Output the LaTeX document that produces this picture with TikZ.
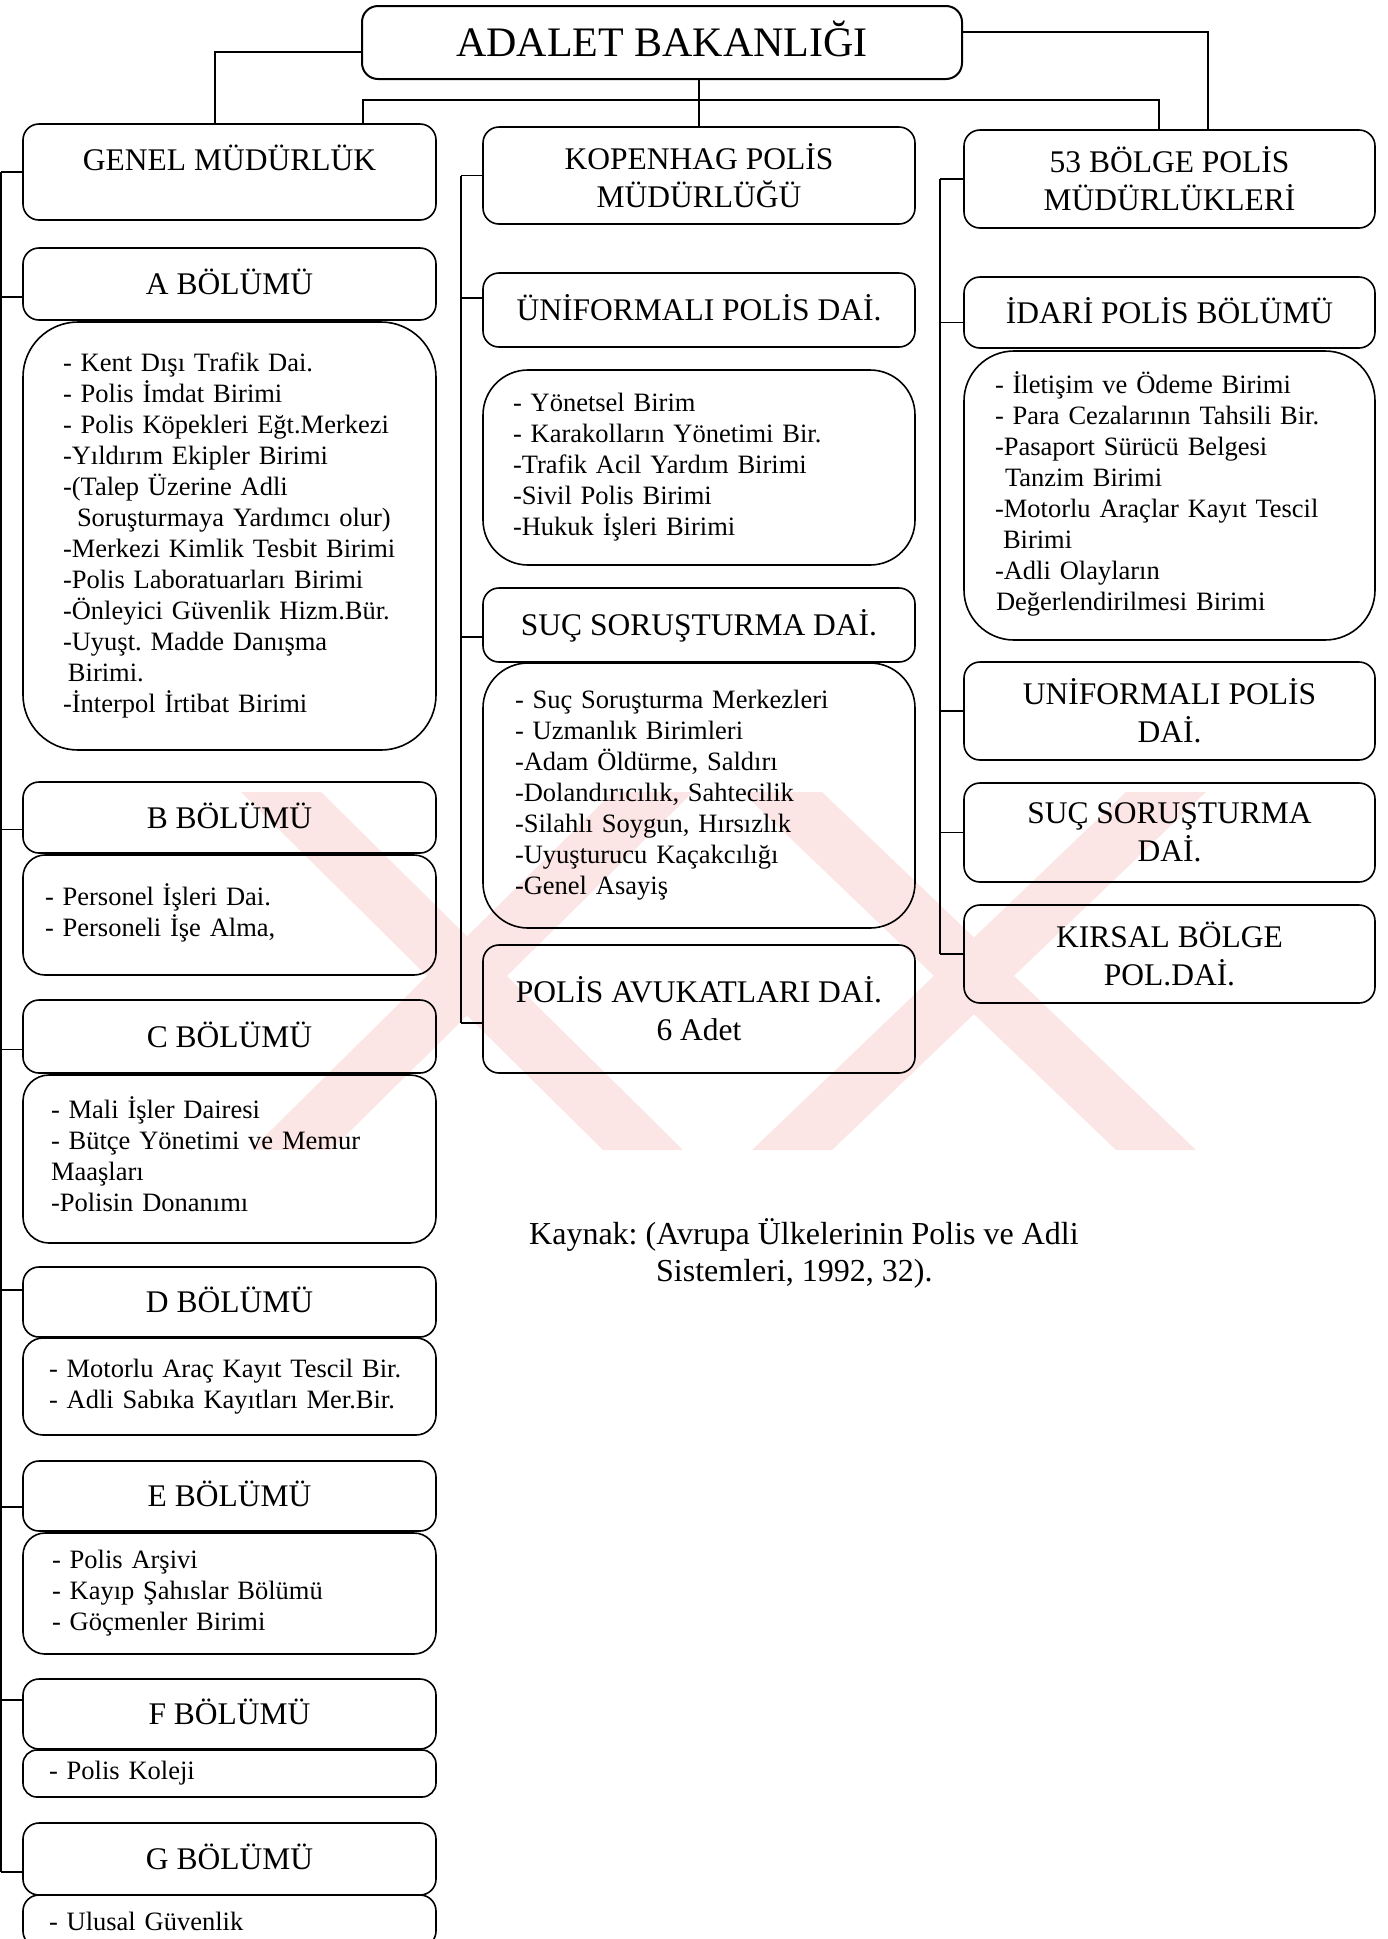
\documentclass[tikz,border=0pt]{standalone}
\usepackage{fontspec}
\setmainfont{Liberation Serif}
\frenchspacing
\definecolor{filigran}{RGB}{252,229,229}
\tikzset{
  baslik/.style={draw, line width=1.6pt, rounded corners=16pt, inner sep=0pt, align=center, font=\fontsize{31.5}{38}\selectfont},
  liste/.style={draw, line width=1.6pt, inner ysep=0pt, align=left, font=\fontsize{26.5}{31}\selectfont},
  tek/.style={text height=21pt, text depth=0pt},
  cizgi/.style={line width=1.3pt},
  solk/.style={minimum width=413pt},
  ortak/.style={minimum width=432pt},
  sagk/.style={minimum width=411pt},
}
\begin{document}
\begin{tikzpicture}[x=1pt,y=-1pt]
\useasboundingbox (0,0) rectangle (1388,1939);
\clip (0,0) rectangle (1388,1939);

% filigran
\fill[filigran] (241,792) -- (321,792) -- (683,1150) -- (603,1150) -- cycle;
\fill[filigran] (613,792) -- (693,792) -- (331,1150) -- (251,1150) -- cycle;
\fill[filigran] (742,792) -- (822,792) -- (1196,1150) -- (1116,1150) -- cycle;
\fill[filigran] (1126,792) -- (1206,792) -- (832,1150) -- (752,1150) -- cycle;

% bakanlik
\node[baslik, minimum width=600pt, minimum height=73pt, line width=2pt, font=\fontsize{42}{50}\selectfont, text height=28pt, text depth=0pt] (bakan) at (662,42.5) {ADALET BAKANLIĞI};

% genel mudurluk
\node[baslik, solk, text height=46pt, text depth=50pt] (genel) at (229.5,172) {GENEL MÜDÜRLÜK};
\node[baslik, solk, tek, minimum height=72pt] (abol) at (229.5,284) {A BÖLÜMÜ};
\node[liste, rounded corners=55pt, minimum height=428pt, inner xsep=40pt, text width=333pt] (alist) at (229.5,536) {\begin{tabular}{@{}l@{}}
- Kent Dışı Trafik Dai.\\
- Polis İmdat Birimi\\
- Polis Köpekleri Eğt.Merkezi\\
-Yıldırım Ekipler Birimi\\
-(Talep Üzerine Adli\\
\hspace*{14pt}Soruşturmaya Yardımcı olur)\\
-Merkezi Kimlik Tesbit Birimi\\
-Polis Laboratuarları Birimi\\
-Önleyici Güvenlik Hizm.Bür.\\
-Uyuşt. Madde Danışma\\
\hspace*{5pt}Birimi.\\
-İnterpol İrtibat Birimi
\end{tabular}};
\node[baslik, solk, tek, minimum height=71pt] (bbol) at (229.5,817.5) {B BÖLÜMÜ};
\node[liste, rounded corners=22pt, minimum height=120pt, inner xsep=22pt, text width=369pt] (blist) at (229.5,915) {\begin{tabular}{@{}l@{}}
- Personel İşleri Dai.\\
- Personeli İşe Alma,
\end{tabular}};
\node[baslik, solk, tek, minimum height=73pt] (cbol) at (229.5,1036.5) {C BÖLÜMÜ};
\node[liste, rounded corners=26pt, minimum height=168pt, inner xsep=28pt, text width=357pt] (clist) at (229.5,1159) {\begin{tabular}{@{}l@{}}
- Mali İşler Dairesi\\
- Bütçe Yönetimi ve Memur\\
Maaşları\\
-Polisin Donanımı
\end{tabular}};
\node[baslik, solk, tek, minimum height=70pt] (dbol) at (229.5,1302) {D BÖLÜMÜ};
\node[liste, rounded corners=20pt, minimum height=97pt, inner xsep=26pt, text width=361pt] (dlist) at (229.5,1386.5) {\begin{tabular}{@{}l@{}}
- Motorlu Araç Kayıt Tescil Bir.\\
- Adli Sabıka Kayıtları Mer.Bir.
\end{tabular}};
\node[baslik, solk, tek, minimum height=70pt] (ebol) at (229.5,1496) {E BÖLÜMÜ};
\node[liste, rounded corners=22pt, minimum height=121pt, inner xsep=29pt, text width=355pt] (elist) at (229.5,1593.5) {\begin{tabular}{@{}l@{}}
- Polis Arşivi\\
- Kayıp Şahıslar Bölümü\\
- Göçmenler Birimi
\end{tabular}};
\node[baslik, solk, tek, minimum height=70pt] (fbol) at (229.5,1714) {F BÖLÜMÜ};
\node[liste, rounded corners=14pt, minimum height=47pt, inner xsep=26pt, text width=361pt] (flist) at (229.5,1773.5) {- Polis Koleji};
\node[baslik, solk, tek, minimum height=72pt] (gbol) at (229.5,1859) {G BÖLÜMÜ};
\node[liste, rounded corners=16pt, minimum height=52pt, inner xsep=26pt, text width=361pt] (glist) at (229.5,1921) {- Ulusal Güvenlik};

% kopenhag
\node[baslik, ortak, minimum height=97pt] (kopen) at (699,175.5) {KOPENHAG POLİS\\MÜDÜRLÜĞÜ};
\node[baslik, ortak, tek, minimum height=74pt] (unibol) at (699,310) {ÜNİFORMALI POLİS DAİ.};
\node[liste, rounded corners=45pt, minimum height=195pt, inner xsep=30pt, text width=372pt] (unilist) at (699,467.5) {\begin{tabular}{@{}l@{}}
- Yönetsel Birim\\
- Karakolların Yönetimi Bir.\\
-Trafik Acil Yardım Birimi\\
-Sivil Polis Birimi\\
-Hukuk İşleri Birimi
\end{tabular}};
\node[baslik, ortak, tek, minimum height=74pt] (sucbol) at (699,625) {SUÇ SORUŞTURMA DAİ.};
\node[liste, rounded corners=45pt, minimum height=265pt, inner xsep=32pt, text width=368pt] (suclist) at (699,795.5) {\begin{tabular}{@{}l@{}}
- Suç Soruşturma Merkezleri\\
- Uzmanlık Birimleri\\
-Adam Öldürme, Saldırı\\
-Dolandırıcılık, Sahtecilik\\
-Silahlı Soygun, Hırsızlık\\
-Uyuşturucu Kaçakcılığı\\
-Genel Asayiş
\end{tabular}};
\node[baslik, ortak, minimum height=128pt] (avuk) at (699,1009) {POLİS AVUKATLARI DAİ.\\6 Adet};

% bolge mudurlukleri
\node[baslik, sagk, minimum height=98pt] (bolge) at (1169.5,179) {53 BÖLGE POLİS\\MÜDÜRLÜKLERİ};
\node[baslik, sagk, tek, minimum height=71pt] (idari) at (1169.5,312.5) {İDARİ POLİS BÖLÜMÜ};
\node[liste, rounded corners=50pt, minimum height=289pt, inner xsep=31pt, text width=349pt] (idarilist) at (1169.5,495.5) {\begin{tabular}{@{}l@{}}
- İletişim ve Ödeme Birimi\\
- Para Cezalarının Tahsili Bir.\\
-Pasaport Sürücü Belgesi\\
\hspace*{10pt}Tanzim Birimi\\
-Motorlu Araçlar Kayıt Tescil\\
\hspace*{8pt}Birimi\\
-Adli Olayların\\
\hspace*{1pt}Değerlendirilmesi Birimi
\end{tabular}};
\node[baslik, sagk, minimum height=98pt] (uni2) at (1169.5,711) {UNİFORMALI POLİS\\DAİ.};
\node[baslik, sagk, minimum height=99pt] (suc2) at (1169.5,832.5) {SUÇ SORUŞTURMA\\DAİ.};
\node[baslik, sagk, minimum height=98pt] (kirsal) at (1169.5,954) {KIRSAL BÖLGE\\POL.DAİ.};

% kaynak
\node[anchor=west, inner sep=0pt, align=left, font=\fontsize{32}{37}\selectfont] (kaynak) at (529,1253.5) {Kaynak: (Avrupa Ülkelerinin Polis ve Adli\\\hspace*{127pt}Sistemleri, 1992, 32).};

% baglantilar
\coordinate (solkol) at (215,52);
\coordinate (sagkol) at (1208,32);
\coordinate (hatsol) at (363,100);
\coordinate (hatsag) at (1159,100);
\draw[cizgi] (bakan.west |- solkol) -| (genel.north -| solkol);
\draw[cizgi] (bakan.east |- sagkol) -| (bolge.north -| sagkol);
\draw[cizgi] (bakan.south -| kopen.north) -- (kopen.north);
\draw[cizgi] (genel.north -| hatsol) |- (hatsag) -- (bolge.north -| hatsag);

\coordinate (soltrunk) at (1,0);
\coordinate (ortatrunk) at (461,0);
\coordinate (sagtrunk) at (940,0);
\foreach \kutu/\kay in {genel/0,abol/-13,bbol/-12,cbol/-13,dbol/12,ebol/-11,fbol/14,gbol/-13}
  \draw[cizgi] ([yshift=\kay pt]\kutu.west) coordinate (u\kutu) -- (u\kutu -| soltrunk);
\draw[cizgi] (ugenel -| soltrunk) -- (ugbol -| soltrunk);
\foreach \kutu/\kay in {kopen/0,unibol/12,sucbol/-12,avuk/-14}
  \draw[cizgi] ([yshift=\kay pt]\kutu.west) coordinate (u\kutu) -- (u\kutu -| ortatrunk);
\draw[cizgi] (ukopen -| ortatrunk) -- (uavuk -| ortatrunk);
\foreach \kutu/\kay in {bolge/0,idari/-10,uni2/0,suc2/0,kirsal/0}
  \draw[cizgi] ([yshift=\kay pt]\kutu.west) coordinate (u\kutu) -- (u\kutu -| sagtrunk);
\draw[cizgi] (ubolge -| sagtrunk) -- (ukirsal -| sagtrunk);
\end{tikzpicture}
\end{document}
